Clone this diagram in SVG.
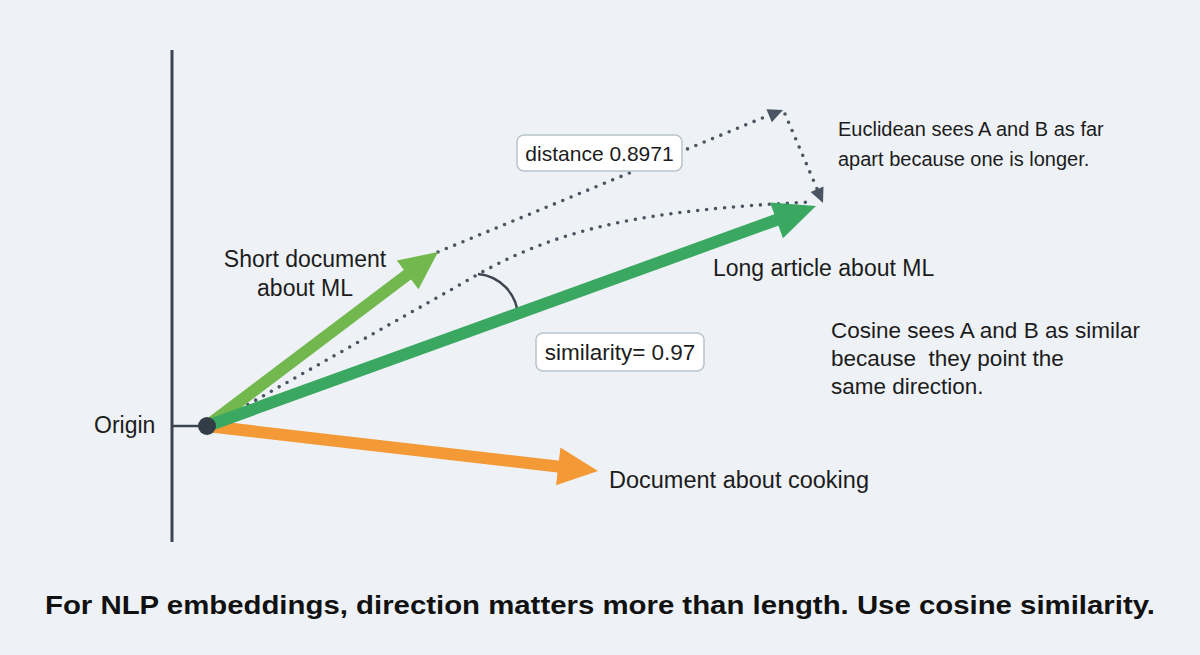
<svg xmlns="http://www.w3.org/2000/svg" width="1200" height="655" viewBox="0 0 1200 655">
<style>
.lbl{font-family:"Liberation Sans",Arial,sans-serif;font-size:23px;fill:#1c1c1c}
.cap{font-family:"Liberation Sans",Arial,sans-serif;font-size:25px;font-weight:bold;fill:#111}
.dot{fill:none;stroke:#4a5563;stroke-width:3.6;stroke-linecap:round;stroke-dasharray:0 9}
.box{fill:#fff;stroke:#b9c3cd;stroke-width:1.5}
</style>
<rect width="1200" height="655" fill="#eef2f6"/>
<g id="axis">
<line x1="172" y1="50" x2="172" y2="542" stroke="#3b4450" stroke-width="3"/>
<line x1="172" y1="426" x2="207" y2="426" stroke="#3b4450" stroke-width="2.5"/>
</g>
<g id="connectors">
<path class="dot" d="M240 409 L470 279 C560 226 650 210 810 202"/>
<line class="dot" x1="438" y1="252" x2="772" y2="114"/>
<line class="dot" x1="785" y1="114" x2="818" y2="191"/>
<g transform="translate(783,110) rotate(-22.4)"><polygon points="0,0 -15,-7 -15,7" fill="#4a5563"/></g>
<g transform="translate(823,203) rotate(66.7)"><polygon points="0,0 -15,-7 -15,7" fill="#4a5563"/></g>
<path d="M478 274 A44 44 0 0 1 518 316" fill="none" stroke="#3b4450" stroke-width="2.5"/>
<line x1="207" y1="426" x2="562" y2="467" stroke="#f39a36" stroke-width="12"/>
<g transform="translate(598,471) rotate(6.57)"><polygon points="0,0 -40,-19 -40,19" fill="#f39a36"/></g>
<line x1="207" y1="426" x2="411" y2="272" stroke="#72b84f" stroke-width="12"/>
<g transform="translate(438,252) rotate(-37)"><polygon points="0,0 -38,-18 -38,18" fill="#72b84f"/></g>
<line x1="207" y1="426" x2="779" y2="219" stroke="#3aa861" stroke-width="12"/>
<g transform="translate(816,206) rotate(-19.86)"><polygon points="0,0 -42,-19 -42,19" fill="#3aa861"/></g>
</g>
<g id="origin">
<circle cx="207" cy="426" r="9" fill="#333d47"/>
<text class="lbl" x="94" y="433">Origin</text>
</g>
<g id="short-doc">
<text class="lbl" x="305" y="267" text-anchor="middle">Short document</text>
<text class="lbl" x="305" y="296" text-anchor="middle">about ML</text>
</g>
<g id="long-article">
<text class="lbl" x="713" y="276">Long article about ML</text>
</g>
<g id="cooking">
<text class="lbl" x="609" y="488" style="font-size:23.5px">Document about cooking</text>
</g>
<g id="distance">
<rect class="box" x="517" y="135" width="165" height="36" rx="7"/>
<text class="lbl" x="599.5" y="160.5" text-anchor="middle" style="font-size:21px">distance 0.8971</text>
</g>
<g id="similarity">
<rect class="box" x="536" y="333" width="168" height="38" rx="7"/>
<text class="lbl" x="620" y="360" text-anchor="middle" style="font-size:22.5px">similarity= 0.97</text>
</g>
<g id="euclid-note">
<text class="lbl" x="838" y="136" style="font-size:20px">Euclidean sees A and B as far</text>
<text class="lbl" x="838" y="166" style="font-size:20px">apart because one is longer.</text>
</g>
<g id="cosine-note">
<text class="lbl" x="831" y="338" style="font-size:22.5px">Cosine sees A and B as similar</text>
<text class="lbl" x="831" y="366" style="font-size:22.5px" xml:space="preserve">because  they point the</text>
<text class="lbl" x="831" y="394" style="font-size:22.5px">same direction.</text>
</g>
<g id="caption">
<text class="cap" x="600" y="614" text-anchor="middle" textLength="1110" lengthAdjust="spacingAndGlyphs">For NLP embeddings, direction matters more than length. Use cosine similarity.</text>
</g>
</svg>
